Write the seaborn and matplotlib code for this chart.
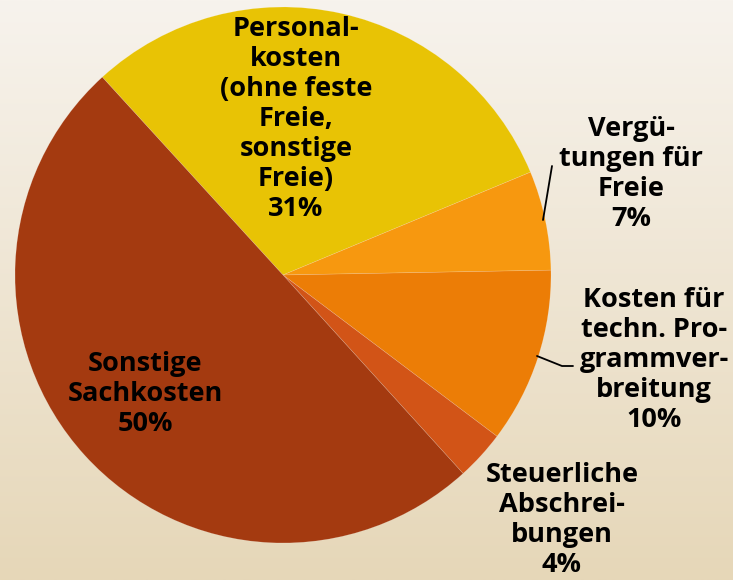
import matplotlib
matplotlib.use('Agg')
import matplotlib.pyplot as plt
import matplotlib.colors as mcolors
import seaborn as sns
import numpy as np

# Daten (Anteile, Beschriftungen wie im Original)
categories = [
    "Personal-\nkosten\n(ohne feste\nFreie,\nsonstige\nFreie)",
    "Vergü-\ntungen für\nFreie",
    "Kosten für\ntechn. Pro-\ngrammver-\nbreitung",
    "Steuerliche\nAbschrei-\nbungen",
    "Sonstige\nSachkosten",
]
shares = [30.6, 6.0, 10.6, 3.0, 50.1]
percent_labels = ["31%", "7%", "10%", "4%", "50%"]
colors = ["#E8C305", "#F7980F", "#EC7D06", "#D25417", "#A43A10"]

sns.set_theme(style="white")
plt.rcParams['font.family'] = ['Open Sans', 'DejaVu Sans']

W, H = 733, 580
fig = plt.figure(figsize=(W / 100, H / 100), dpi=100)
ax = fig.add_axes([0, 0, 1, 1])

# Hintergrund-Verlauf
bg = mcolors.LinearSegmentedColormap.from_list("bg", ["#E6D7B8", "#F7F3ED"])
grad = np.linspace(0, 1, 256).reshape(-1, 1)
ax.imshow(grad, extent=[0, W, 0, H], origin='lower', cmap=bg,
          aspect='auto', zorder=0)

# Kreisdiagramm (Pixelkoordinaten, y nach oben)
cx, cy, r = 283, H - 275, 268
ax.pie(shares, colors=colors, startangle=132.4, counterclock=False,
       center=(cx, cy), radius=r, frame=True,
       wedgeprops=dict(linewidth=0.4, edgecolor=(1, 1, 1, 0.25)))
ax.set_xlim(0, W)
ax.set_ylim(0, H)
ax.set_aspect('equal')
ax.axis('off')

# Beschriftungen
label_pos = [(296, 119), (631, 174), (654, 360), (562, 520), (145, 394)]
for text, pct, (px, py) in zip(categories, percent_labels, label_pos):
    ax.text(px, H - py, text + "\n" + pct, ha='center', va='center',
            fontsize=19.5, fontweight='bold', color='black',
            linespacing=1.2, zorder=5)

# Führungslinien
ax.plot([543, 552], [H - 220, H - 166], color='black', lw=1.3, zorder=4)
ax.plot([537, 562, 573], [H - 356, H - 366, H - 366], color='black',
        lw=1.3, zorder=4)

plt.savefig('out.png', dpi=100)
plt.close()
